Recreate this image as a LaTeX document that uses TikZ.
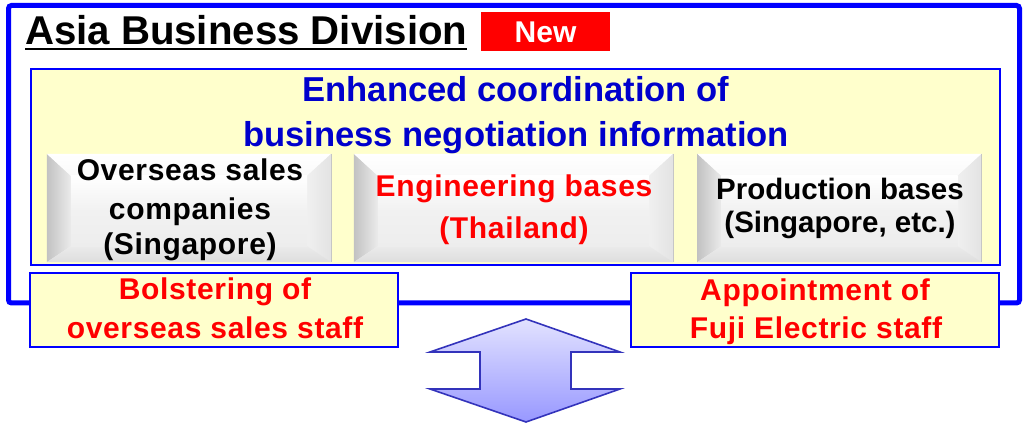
\documentclass[tikz,border=0pt]{standalone}
\usepackage{fontspec}
\setmainfont{Liberation Sans}
\newfontfamily\wideface[LetterSpace=2.2]{Liberation Sans}
\usetikzlibrary{calc}

\definecolor{frameblue}{HTML}{0000FF}
\definecolor{titleblue}{HTML}{0000CC}
\definecolor{paleyellow}{HTML}{FFFFCC}
\definecolor{alertred}{HTML}{FF0000}
\definecolor{arrowedge}{HTML}{3333BB}
\definecolor{arrowtop}{HTML}{E2E2FF}
\definecolor{arrowbottom}{HTML}{9898FF}

\tikzset{
  txt/.style={inner sep=0pt, outer sep=0pt, anchor=base, font=\bfseries},
  yellowbox/.style={draw=frameblue, line width=2pt, fill=paleyellow, inner sep=0pt},
  greybox/.style={inner sep=0pt, minimum height=108pt, fill=gray!12},
  headtext/.style={txt, text=titleblue, font=\bfseries\fontsize{34.6}{42}\selectfont},
  boxtext/.style={txt, text=black, font=\wideface\bfseries\fontsize{30}{36}\selectfont},
  boxtextb/.style={txt, text=black, font=\bfseries\fontsize{29.5}{36}\selectfont},
  redtext/.style={txt, text=alertred, font=\wideface\bfseries\fontsize{30}{36}\selectfont},
}

% bevelled edges around a grey button node
\newcommand\bevelize[1]{%
  \shade[left color=gray!48, right color=gray!16]
    (#1.north west) -- ($(#1.north west)+(24,22)$) -- ($(#1.south west)+(24,-16)$) -- (#1.south west) -- cycle;
  \shade[top color=white, bottom color=white!96!gray]
    (#1.north west) -- (#1.north east) -- ($(#1.north east)+(-24,22)$) -- ($(#1.north west)+(24,22)$) -- cycle;
  \shade[left color=gray!12, right color=gray!22]
    (#1.north east) -- (#1.south east) -- ($(#1.south east)+(-24,-16)$) -- ($(#1.north east)+(-24,22)$) -- cycle;
  \shade[top color=gray!16, bottom color=gray!26]
    (#1.south west) -- ($(#1.south west)+(24,-16)$) -- ($(#1.south east)+(-24,-16)$) -- (#1.south east) -- cycle;
  \shade[top color=white, bottom color=gray!14, middle color=gray!11]
    ($(#1.north west)+(24,22)$) rectangle ($(#1.south east)+(-24,-16)$);
  \draw[gray!45, line width=0.8pt] (#1.north east) -- (#1.south east);
}

\begin{document}
\begin{tikzpicture}[x=1pt, y=-1pt]
  \useasboundingbox (0,0) rectangle (1023,430);
  \fill[white] (0,0) rectangle (1023,430);

  % division frame
  \draw[frameblue, line width=5pt, rounded corners=3pt] (8.5,5.5) rectangle (1019.5,303);

  % heading of the division
  \node[txt, anchor=base west, font=\bfseries\fontsize{40.2}{46}\selectfont] (ttl) at (25,45) {Asia Business Division};
  \draw[black, line width=2pt] ($(ttl.base west)+(0,4)$) -- ($(ttl.base east)+(0,4)$);
  \node[fill=alertred, minimum width=129pt, minimum height=39pt, inner sep=0pt] (newbox) at (545.5,31.5) {};
  \node[txt, text=white, font=\bfseries\fontsize{30}{36}\selectfont] (newlbl) at (545.5,43) {New};

  % coordination panel
  \node[yellowbox, minimum width=969pt, minimum height=196pt] (main) at (515.5,167) {};
  \node[headtext] (head1) at (516,102) {Enhanced coordination of};
  \node[headtext] (head2) at (516,147) {business negotiation information};

  % grey buttons
  \node[greybox, minimum width=284pt] (sales) at (189,208) {};
  \bevelize{sales}
  \node[greybox, minimum width=319pt] (eng) at (513.5,208) {};
  \bevelize{eng}
  \node[greybox, minimum width=284pt] (prod) at (839.5,208) {};
  \bevelize{prod}

  \node[boxtext] (sales1) at (190,181) {Overseas sales};
  \node[boxtext] (sales2) at (190,220) {companies};
  \node[boxtext] (sales3) at (190,255) {(Singapore)};

  \node[boxtext, text=alertred] (eng1) at (514,197) {Engineering bases};
  \node[boxtext, text=alertred] (eng2) at (514,239) {(Thailand)};

  \node[boxtextb] (prod1) at (840,200) {Production bases};
  \node[boxtextb] (prod2) at (840,233) {(Singapore, etc.)};

  % measures below the frame
  \node[yellowbox, minimum width=368pt, minimum height=74pt] (staffL) at (214,310) {};
  \node[redtext] (staffL1) at (215,300) {Bolstering of};
  \node[redtext] (staffL2) at (215,339) {overseas sales staff};

  \node[yellowbox, minimum width=368pt, minimum height=74pt] (staffR) at (815,310) {};
  \node[redtext] (staffR1) at (815,301) {Appointment of};
  \node[redtext] (staffR2) at (816,339) {Fuji Electric staff};

  % two-way arrow
  \draw[arrowedge, line width=1.6pt, line join=miter, top color=arrowtop, bottom color=arrowbottom]
    (526,319) -- (620,352) -- (571,352) -- (571,389) -- (620,389) -- (526,422)
    -- (430,389) -- (480,389) -- (480,352) -- (430,352) -- cycle;
\end{tikzpicture}
\end{document}
